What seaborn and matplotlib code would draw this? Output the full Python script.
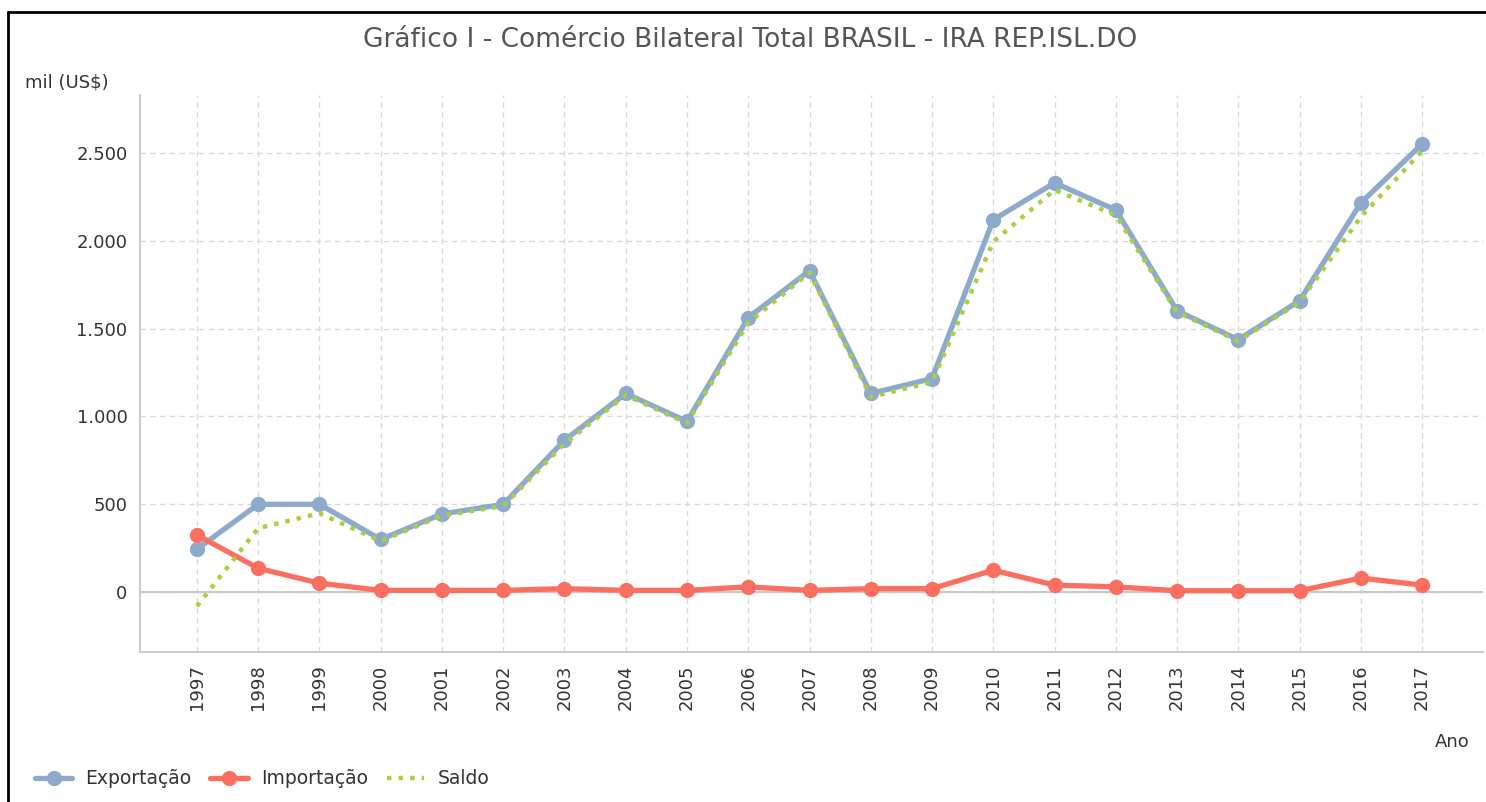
import matplotlib
matplotlib.use("Agg")
import matplotlib.pyplot as plt
import seaborn as sns
import pandas as pd
from matplotlib.ticker import FuncFormatter

# data (mil US$)
anos = list(range(1997, 2018))
exportacao = [245, 500, 500, 300, 445, 500, 865, 1131, 972, 1563, 1830,
              1131, 1216, 2120, 2330, 2176, 1602, 1437, 1659, 2216, 2551]
importacao = [325, 136, 51, 10, 10, 10, 20, 10, 10, 30, 10,
              20, 20, 125, 40, 30, 8, 8, 8, 80, 40]
saldo = [-80, 364, 449, 290, 435, 490, 845, 1121, 962, 1533, 1820,
         1111, 1196, 1995, 2290, 2146, 1594, 1429, 1651, 2136, 2511]

df = pd.DataFrame({"Ano": anos, "Exportação": exportacao,
                   "Importação": importacao, "Saldo": saldo})

sns.set_style("white")
plt.rcParams['font.family'] = ['DejaVu Sans']

fig = plt.figure(figsize=(14.86, 8.02), dpi=100)
ax = fig.add_axes([0.0942, 0.187, 0.904, 0.6945])

blue = "#8DA9CC"
red = "#FA6F5F"
green = "#A8D03C"

sns.lineplot(data=df, x="Ano", y="Exportação", ax=ax, color=blue, lw=3.8,
             marker="o", markersize=11, markeredgewidth=0, label="Exportação", zorder=3)
sns.lineplot(data=df, x="Ano", y="Importação", ax=ax, color=red, lw=3.8,
             marker="o", markersize=11, markeredgewidth=0, label="Importação", zorder=4)
sns.lineplot(data=df, x="Ano", y="Saldo", ax=ax, color=green, lw=3.2,
             linestyle=(0, (1, 1.6)), label="Saldo", zorder=5)

ax.set_xlim(1997 - 0.93, 2017 + 1.0)
ax.set_ylim(-341, 2830)
ax.set_xticks(anos)
ax.set_xticklabels([str(a) for a in anos], rotation=90)
ax.set_yticks([0, 500, 1000, 1500, 2000, 2500])
ax.yaxis.set_major_formatter(FuncFormatter(lambda v, p: f"{int(v):,}".replace(",", ".")))
ax.tick_params(axis="both", labelsize=13, colors="#333333", length=0, pad=9)

ax.grid(True, color="#D9D9D9", linestyle=(0, (4, 3)), lw=1)
ax.axhline(0, color="#C8C8C8", lw=1.5, zorder=1)
for s in ["top", "right"]:
    ax.spines[s].set_visible(False)
for s in ["left", "bottom"]:
    ax.spines[s].set_color("#CCCCCC")
    ax.spines[s].set_linewidth(1.5)

ax.set_xlabel("")
ax.set_ylabel("")
fig.text(25 / 1486, 1 - 82 / 802, "mil (US$)", fontsize=13, color="#333333", va="center")
fig.text(1470 / 1486, 1 - 742 / 802, "Ano", fontsize=13, color="#333333", ha="right", va="center")
fig.text(750 / 1486, 1 - 40 / 802, "Gráfico I - Comércio Bilateral Total BRASIL - IRA REP.ISL.DO",
         fontsize=19, color="#555555", ha="center", va="center")

ax.legend(loc="lower left", bbox_to_anchor=(18 / 1486, -0.004), bbox_transform=fig.transFigure,
          ncol=3, frameon=False, fontsize=13.5, handlelength=2.0, columnspacing=1.0,
          handletextpad=0.7, labelcolor="#333333")

# frame lines (top and left)
fig.add_artist(plt.Line2D([8 / 1486, 1], [1 - 12 / 802, 1 - 12 / 802], color="black", lw=2))
fig.add_artist(plt.Line2D([8 / 1486, 8 / 1486], [0, 1 - 12 / 802], color="black", lw=2))

fig.savefig("out.png", dpi=100)
